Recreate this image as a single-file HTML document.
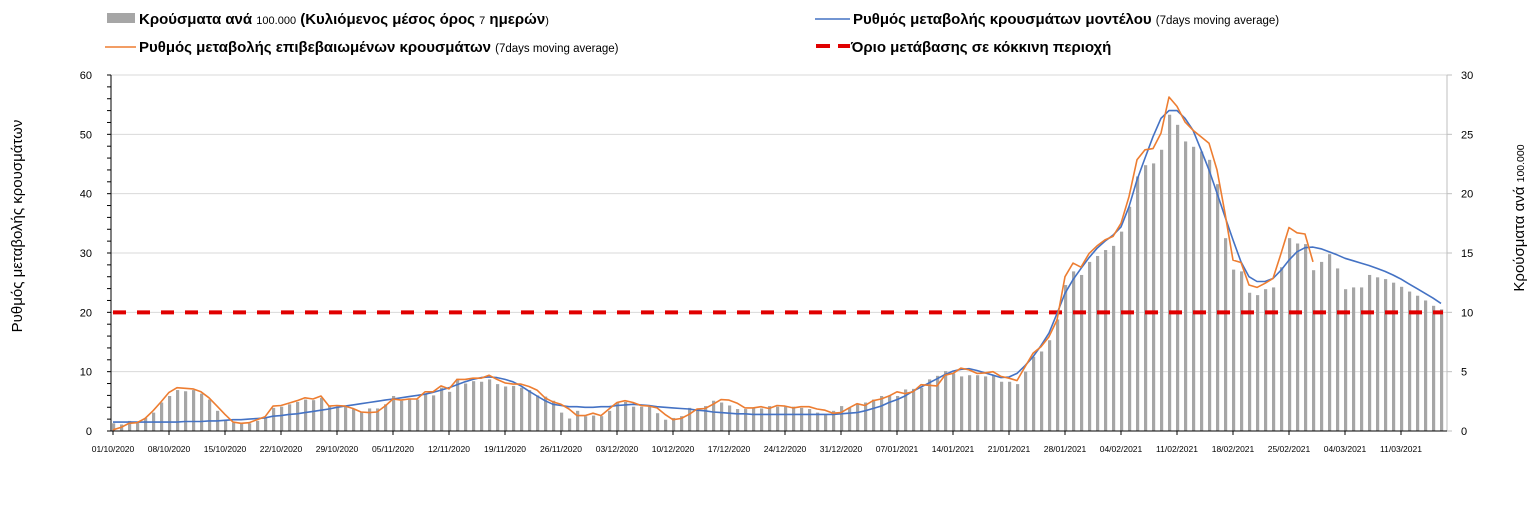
<!DOCTYPE html>
<html><head><meta charset="utf-8"><style>
body{margin:0;background:#fff}
svg{display:block;font-family:"Liberation Sans",sans-serif}
</style></head><body>
<svg id="chart" width="1540" height="515" viewBox="0 0 1540 515">
<g id="grid"></g>
<g id="bars"></g>
<g id="axes"></g>
<g id="lines"></g>
<g font-size="15" font-weight="bold">
  <g>
    <rect x="107" y="13" width="28" height="10" fill="#a6a6a6"/>
    <text x="139" y="24" fill="#000">Κρούσματα ανά <tspan font-size="11" font-weight="normal">100.000</tspan> (Κυλιόμενος μέσος όρος <tspan font-size="11" font-weight="normal">7</tspan> ημερών<tspan font-size="11" font-weight="normal">)</tspan></text>
  </g>
  <g>
    <line x1="105" y1="47" x2="136" y2="47" stroke="#ed7d31" stroke-width="1.5"/>
    <text x="139" y="52" fill="#000">Ρυθμός μεταβολής επιβεβαιωμένων κρουσμάτων <tspan font-size="11.5" font-weight="normal">(7days moving average)</tspan></text>
  </g>
  <g>
    <line x1="815" y1="19" x2="850" y2="19" stroke="#4472c4" stroke-width="1.5"/>
    <text x="853" y="24" fill="#000">Ρυθμός μεταβολής κρουσμάτων μοντέλου <tspan font-size="11.5" font-weight="normal">(7days moving average)</tspan></text>
  </g>
  <g>
    <line x1="816" y1="46" x2="850" y2="46" stroke="#e00000" stroke-width="4" stroke-dasharray="14,8"/>
    <text x="851" y="52" fill="#000">Όριο μετάβασης σε κόκκινη περιοχή</text>
  </g>
</g>
<text transform="translate(22,226) rotate(-90)" text-anchor="middle" font-size="15">Ρυθμός μεταβολής κρουσμάτων</text>
<text transform="translate(1524,218) rotate(-90)" text-anchor="middle" font-size="15">Κρούσματα ανά <tspan font-size="10.5">100.000</tspan></text>
</svg>
<script>
const dateLabels = ["01/10/2020","08/10/2020","15/10/2020","22/10/2020","29/10/2020","05/11/2020","12/11/2020","19/11/2020","26/11/2020","03/12/2020","10/12/2020","17/12/2020","24/12/2020","31/12/2020","07/01/2021","14/01/2021","21/01/2021","28/01/2021","04/02/2021","11/02/2021","18/02/2021","25/02/2021","04/03/2021","11/03/2021"];
const leftTicks = [0,10,20,30,40,50,60];
const rightTicks = [0,5,10,15,20,25,30];
const redThreshold = 20;
const casesPer100k = [0.65,0.55,0.85,0.75,1.1,1.55,2.4,2.95,3.45,3.35,3.45,3.15,2.65,1.7,0.95,0.7,0.7,0.65,0.85,1.1,1.95,2.05,2.25,2.45,2.65,2.6,2.8,2.1,2.05,2.05,1.85,1.6,1.9,1.9,2.25,2.95,2.55,2.7,2.65,3.15,3.0,3.65,3.3,4.4,4.0,4.2,4.15,4.35,3.95,3.75,3.8,3.65,3.45,3.0,2.9,2.55,
1.55,1.05,1.7,1.25,1.3,1.25,1.7,2.4,2.45,2.05,2.05,2.05,1.5,0.95,1.1,1.25,1.95,1.85,2.1,2.55,2.4,2.15,1.85,1.85,1.95,1.9,2.1,2.05,2.05,2.05,1.95,1.85,1.55,1.4,1.7,2.1,1.95,2.25,2.4,2.65,2.95,3.0,2.95,3.5,3.55,3.65,4.35,4.65,5.05,4.85,4.6,4.7,4.7,4.6,4.7,4.15,
4.15,3.95,5.0,6.25,6.7,7.65,9.4,12.3,13.45,13.15,14.25,14.75,15.25,15.6,16.8,18.9,21.45,22.4,22.55,23.7,26.65,25.8,24.4,23.95,23.55,22.85,20.8,16.25,13.6,13.45,11.65,11.45,11.95,12.1,13.8,16.25,15.8,15.75,13.55,14.25,14.9,13.7,11.95,12.1,12.1,13.15,12.95,12.8,12.5,12.15,11.75,11.4,11.0,10.55,10.25];
const confirmedRate = [0.2,0.6,1.3,1.4,2.1,3.4,4.9,6.5,7.3,7.2,7.1,6.6,5.6,4.2,2.8,1.5,1.3,1.4,1.9,2.4,4.2,4.3,4.7,5.1,5.6,5.4,5.9,4.2,4.3,4.2,3.8,3.2,3.1,3.2,4.2,5.4,5.2,5.4,5.4,6.6,6.6,7.6,7.1,8.7,8.7,8.9,8.9,9.4,8.7,8.1,7.9,7.9,7.5,6.9,5.6,4.9,
4.5,3.7,2.6,2.6,3.0,2.6,3.7,4.8,5.1,4.8,4.3,4.2,3.9,2.8,1.9,2.1,2.8,3.7,3.8,4.5,5.3,5.2,4.7,3.9,3.9,4.1,3.8,4.3,4.2,3.9,4.1,4.1,3.7,3.5,3.0,3.1,3.9,4.6,4.3,5.1,5.4,5.9,6.6,6.3,6.6,7.8,7.7,7.6,9.4,9.7,10.6,10.3,9.7,9.8,10.0,9.2,
8.9,8.5,10.8,13.1,14.2,15.9,18.7,26.0,28.3,27.6,29.9,31.2,32.2,32.8,35.0,39.5,45.7,47.4,47.6,50.2,56.3,54.7,52.1,50.7,49.6,48.5,44.0,36.7,28.8,28.4,24.6,24.2,24.9,25.7,29.9,34.3,33.4,33.2,28.5];
const modelRate = [1.5,1.5,1.5,1.5,1.5,1.5,1.5,1.5,1.5,1.6,1.6,1.6,1.7,1.7,1.8,1.9,1.9,2.0,2.1,2.2,2.5,2.6,2.8,2.9,3.1,3.3,3.5,3.7,4.0,
4.2,4.4,4.6,4.8,5.0,5.2,5.4,5.6,5.8,6.0,6.2,6.5,6.9,7.3,7.8,8.3,8.7,9.0,9.1,9.0,8.7,8.3,7.6,6.7,5.9,5.1,4.5,
4.3,4.1,4.1,4.0,4.0,4.1,4.1,4.3,4.4,4.5,4.4,4.3,4.1,4.0,3.9,3.8,3.7,3.5,3.4,3.2,3.1,3.0,2.9,2.9,2.8,2.8,2.8,2.8,2.8,2.8,2.8,2.8,2.8,2.8,2.8,
2.9,3.0,3.1,3.4,3.8,4.2,4.8,5.3,5.9,6.7,7.4,8.1,8.8,9.5,10.1,10.4,10.5,10.2,9.8,9.4,9.0,9.1,
9.7,11.0,12.5,14.4,16.5,19.8,23.2,25.5,27.4,29.2,30.8,32.0,33.0,34.4,37.8,42.3,46.0,49.6,52.7,54.0,54.0,52.7,50.7,47.4,44.0,40.1,36.1,32.2,28.5,26.0,25.2,25.2,25.7,27.1,28.8,30.2,30.9,31.0,30.7,30.2,29.7,29.1,28.7,28.3,27.9,27.4,26.9,26.3,25.6,24.8,24.0,23.2,22.4,21.5];

const NS = "http://www.w3.org/2000/svg";
const X0 = 113, DX = 8, Y0 = 431, PT = 75, LEFTX = 111, RIGHTX = 1447;
const xS = d => X0 + DX * d;
const yL = v => Y0 - v * (Y0 - PT) / 60;
const yR = v => Y0 - v * (Y0 - PT) / 30;
function mk(tag, attrs, parent) {
  const e = document.createElementNS(NS, tag);
  for (const k in attrs) e.setAttribute(k, attrs[k]);
  parent.appendChild(e);
  return e;
}
const grid = document.getElementById('grid');
const axes = document.getElementById('axes');
const barsG = document.getElementById('bars');
const linesG = document.getElementById('lines');

leftTicks.forEach(v => {
  if (v > 0) {
    const g = mk('line', {x1: LEFTX, x2: RIGHTX, y1: yL(v), y2: yL(v), stroke: '#d9d9d9', 'stroke-width': 1}, grid);
    
    
  }
  const t = mk('text', {x: 92, y: yL(v) + 4, 'text-anchor': 'end', 'font-size': 11, fill: '#000'}, axes);
  t.textContent = v;
  
  
});
for (let v = 0; v <= 60; v += 2) {
  mk('line', {x1: LEFTX - 4, x2: LEFTX, y1: yL(v), y2: yL(v), stroke: '#000', 'stroke-width': 1}, axes);
}
rightTicks.forEach(v => {
  mk('line', {x1: RIGHTX, x2: RIGHTX + 5, y1: yR(v), y2: yR(v), stroke: '#bfbfbf', 'stroke-width': 1}, axes);
  const t = mk('text', {x: 1461, y: yR(v) + 4, 'font-size': 11, fill: '#000'}, axes);
  t.textContent = v;
  
  
});
const la = mk('line', {x1: LEFTX, x2: LEFTX, y1: PT, y2: Y0, stroke: '#000', 'stroke-width': 1}, axes);


const ra = mk('line', {x1: RIGHTX, x2: RIGHTX, y1: PT, y2: Y0, stroke: '#bfbfbf', 'stroke-width': 1}, axes);



casesPer100k.forEach((v, i) => {
  const b = mk('rect', {x: xS(i) - 1, y: yR(v), width: 3.2, height: Y0 - yR(v), fill: '#a6a6a6'}, barsG);
  
  
});

const xa = mk('line', {x1: LEFTX, x2: RIGHTX, y1: Y0, y2: Y0, stroke: '#000', 'stroke-width': 1}, axes);


dateLabels.forEach((s, i) => {
  const d = i * 7;
  mk('line', {x1: xS(d), x2: xS(d), y1: Y0, y2: Y0 + 4, stroke: '#000'}, axes);
  const t = mk('text', {x: xS(d), y: 452, 'text-anchor': 'middle', 'font-size': 8.5, fill: '#000'}, axes);
  t.textContent = s;
  
  
});

const th = mk('line', {x1: LEFTX + 2, x2: RIGHTX - 4, y1: yL(redThreshold), y2: yL(redThreshold), stroke: '#e00000', 'stroke-width': 4, 'stroke-dasharray': '13,11'}, linesG);



function path(arr, color, name) {
  const d = arr.map((v, i) => (i ? 'L' : 'M') + xS(i).toFixed(1) + ',' + yL(v).toFixed(1)).join('');
  const p = mk('path', {d: d, fill: 'none', stroke: color, 'stroke-width': 1.6, 'stroke-linejoin': 'round'}, linesG);
  
  
}
path(modelRate, '#4472c4', 'model-rate-line');
path(confirmedRate, '#ed7d31', 'confirmed-rate-line');
</script>
</body></html>
